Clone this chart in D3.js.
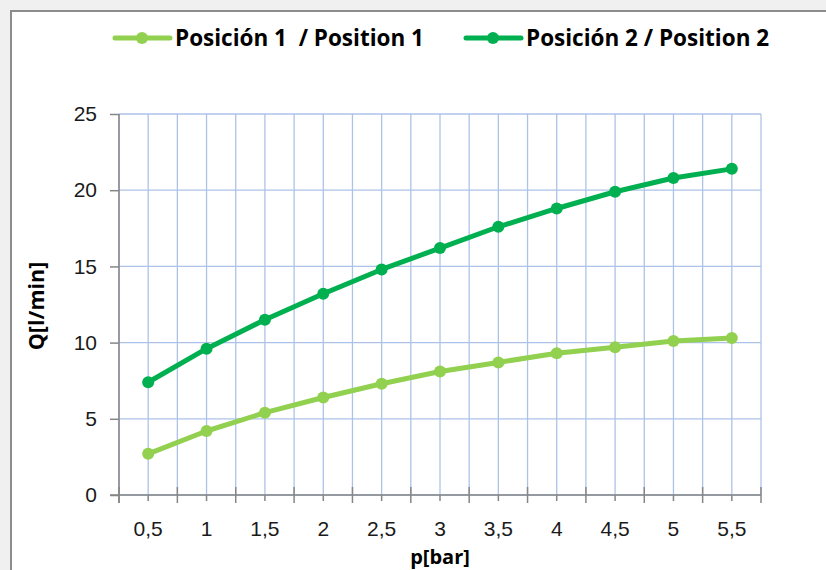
<!DOCTYPE html>
<html>
<head>
<meta charset="utf-8">
<script src="https://cdn.jsdelivr.net/npm/d3@7/dist/d3.min.js"></script>
<style>
  body { margin: 0; background: #f0f0f0; }
  svg { display: block; font-family: "Open Sans", Lato, sans-serif; }
</style>
</head>
<body>
<svg width="826" height="570"></svg>
<script>
// Chart data
var pressures = ['0,5', '1', '1,5', '2', '2,5', '3', '3,5', '4', '4,5', '5', '5,5'];
var position1 = [2.7, 4.2, 5.4, 6.4, 7.3, 8.1, 8.7, 9.3, 9.7, 10.1, 10.3];
var position2 = [7.4, 9.6, 11.5, 13.2, 14.8, 16.2, 17.6, 18.8, 19.9, 20.8, 21.4];
var yTicks = [0, 5, 10, 15, 20, 25];
var seriesNames = ['Posición 1  / Position 1', 'Posición 2 / Position 2'];
var seriesColors = ['#92d050', '#00b050'];

var svg = d3.select('svg');

// chart area with frame
svg.append('rect')
    .attr('x', 11).attr('y', 11)
    .attr('width', 830).attr('height', 580)
    .attr('fill', '#fff')
    .attr('stroke', '#8c8c8c')
    .attr('stroke-width', 2);

var plot = {l: 119, r: 761, t: 114, b: 495};

var x = d3.scaleBand()
    .domain(pressures)
    .range([plot.l, plot.r]);

var y = d3.scaleLinear()
    .domain([0, 25])
    .range([plot.b, plot.t]);

var g = svg.append('g');

// vertical gridlines: band edges and band centres
var edges = pressures.map(function(p) { return x(p); }).concat([plot.r]);
var centres = pressures.map(function(p) { return x(p) + x.bandwidth() / 2; });

g.selectAll('.vgrid')
    .data(edges.concat(centres))
    .enter().append('line')
    .attr('x1', d => d).attr('x2', d => d)
    .attr('y1', plot.t).attr('y2', plot.b)
    .attr('stroke', '#adc2e8')
    .attr('stroke-width', 1.3);

g.selectAll('.hgrid')
    .data(yTicks)
    .enter().append('line')
    .attr('x1', plot.l).attr('x2', plot.r)
    .attr('y1', d => y(d)).attr('y2', d => y(d))
    .attr('stroke', '#adc2e8')
    .attr('stroke-width', 1.3);

// y axis
var yAxis = d3.axisLeft(y)
    .tickValues(yTicks)
    .tickSize(9)
    .tickPadding(13)
    .tickFormat(d => d);

var yG = g.append('g')
    .attr('transform', 'translate(' + plot.l + ',0)')
    .call(yAxis);
yG.select('.domain').remove();
yG.selectAll('.tick line').attr('stroke', '#868686').attr('stroke-width', 1.5);
yG.selectAll('.tick text')
    .attr('fill', '#1a1a1a')
    .style('font-size', '21px');
g.append('line')
    .attr('x1', plot.l).attr('x2', plot.l)
    .attr('y1', plot.t).attr('y2', plot.b + 8)
    .attr('stroke', '#868686').attr('stroke-width', 1.5);

// x axis
var xAxis = d3.axisBottom(x)
    .tickSize(6)
    .tickPadding(20);

var xG = g.append('g')
    .attr('transform', 'translate(0,' + plot.b + ')')
    .call(xAxis);
xG.select('.domain').remove();
xG.selectAll('.tick line').attr('stroke', '#868686').attr('stroke-width', 1.5);
xG.selectAll('.tick text')
    .attr('fill', '#1a1a1a')
    .style('font-size', '21px');

// major ticks at band edges
xG.selectAll('.edge')
    .data(edges)
    .enter().append('line')
    .attr('x1', d => d).attr('x2', d => d)
    .attr('y1', -8).attr('y2', 8)
    .attr('stroke', '#868686').attr('stroke-width', 1.5);
g.append('line')
    .attr('x1', plot.l - 9).attr('x2', plot.r)
    .attr('y1', plot.b).attr('y2', plot.b)
    .attr('stroke', '#868686').attr('stroke-width', 1.5);

// axis titles
svg.append('text')
    .attr('x', 440).attr('y', 564)
    .attr('text-anchor', 'middle')
    .style('font-size', '20px').style('font-weight', 'bold')
    .text('p[bar]');

svg.append('text')
    .attr('transform', 'translate(44,306) rotate(-90)')
    .attr('text-anchor', 'middle')
    .style('font-size', '21.5px').style('font-weight', 'bold')
    .text('Q[l/min]');

// series lines
var line = d3.line()
    .x((d, i) => x(pressures[i]) + x.bandwidth() / 2)
    .y(d => y(d));

[position1, position2].forEach(function(vals, k) {
    g.append('path')
        .datum(vals)
        .attr('d', line)
        .attr('fill', 'none')
        .attr('stroke', seriesColors[k])
        .attr('stroke-width', 5)
        .attr('stroke-linejoin', 'round');
    g.selectAll('.pt' + k)
        .data(vals)
        .enter().append('circle')
        .attr('cx', (d, i) => x(pressures[i]) + x.bandwidth() / 2)
        .attr('cy', d => y(d))
        .attr('r', 6)
        .attr('fill', seriesColors[k]);
});

// legend
var legendX = [115, 466];
seriesNames.forEach(function(name, k) {
    var lg = svg.append('g').attr('transform', 'translate(' + legendX[k] + ',38)');
    lg.append('line')
        .attr('x1', 0).attr('x2', 55)
        .attr('stroke', seriesColors[k])
        .attr('stroke-width', 5)
        .attr('stroke-linecap', 'round');
    lg.append('circle')
        .attr('cx', 27).attr('r', 6)
        .attr('fill', seriesColors[k]);
    lg.append('text')
        .attr('x', 60).attr('y', 8)
        .style('font-size', '22.5px').style('font-weight', 'bold')
        .style('white-space', 'pre')
        .attr('xml:space', 'preserve')
        .text(name);
});
</script>
</body>
</html>
